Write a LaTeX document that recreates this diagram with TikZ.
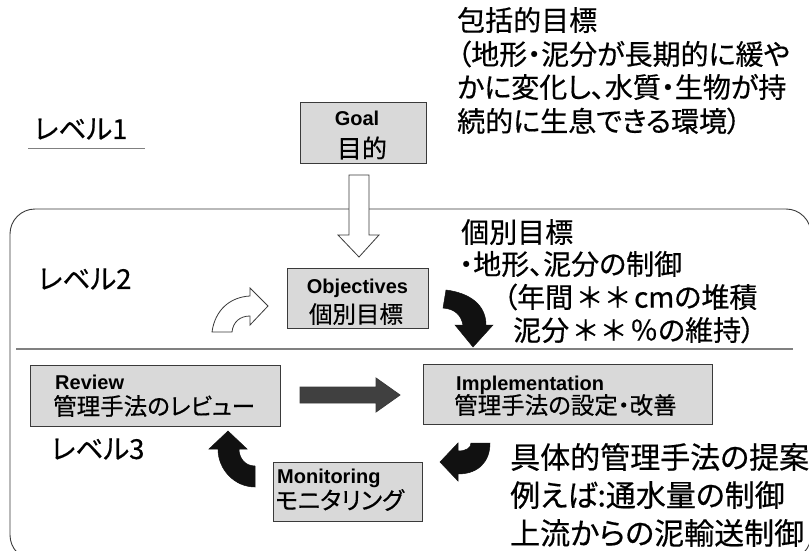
\documentclass[tikz,border=0pt]{standalone}
\usepackage{fontspec}
\setmainfont[RawFeature=+palt, FakeBold=0.5]{Noto Sans CJK JP}
\newfontfamily\lat{Liberation Sans}
\definecolor{boxfill}{HTML}{D9D9D9}
\definecolor{boxline}{HTML}{3A3A3A}
\definecolor{darkarrow}{HTML}{404040}
\definecolor{rulegray}{HTML}{808080}
\definecolor{blk}{HTML}{111111}
\newcommand{\ag}{\hspace{5pt}}
\begin{document}
\begin{tikzpicture}[x=1pt,y=-1pt,
  box/.style={draw=boxline, fill=boxfill, line width=0.9pt, inner sep=0pt, rectangle},
  en/.style={inner sep=0pt, font=\lat\bfseries\fontsize{20}{24}\selectfont},
  jb/.style={inner sep=0pt, font=\fontsize{23.5}{28}\selectfont},
  lv/.style={inner sep=0pt, font=\fontsize{27.5}{30}\selectfont, anchor=west},
  bigA/.style={inner sep=0pt, font=\fontsize{28}{31}\selectfont, anchor=west},
  bigB/.style={inner sep=0pt, font=\fontsize{28}{31}\selectfont, anchor=west},
  bigC/.style={inner sep=0pt, font=\fontsize{30}{33}\selectfont, anchor=west},
  whitearrow/.style={draw=boxline, fill=white, line width=0.8pt, line join=miter},
  blackarrow/.style={draw=blk, fill=blk, line width=0.5pt},
  grayarrow/.style={draw=boxline, fill=darkarrow, line width=0.8pt}]
\useasboundingbox (0,0) rectangle (809,551);
% level 2/3 frame
\begin{scope}
\clip (0,0) rectangle (809,551);
\draw[boxline, line width=0.9pt, rounded corners=25pt] (10,209) rectangle (811,560);
\end{scope}
\draw[rulegray, line width=1.5pt] (16,349) -- (793,349);
\draw[rulegray, line width=1pt] (28,148) -- (145,148);

% level labels
\node[lv] (lv1) at (34,129) {レベル1};
\node[lv] (lv2) at (38,279) {レベル2};
\node[lv] (lv3) at (51,449) {レベル3};

% boxes
\node[box, minimum width=126pt, minimum height=61pt] (goal) at (363,132.5) {};
\node[box, minimum width=141pt, minimum height=60pt] (obj) at (357.5,298) {};
\node[box, minimum width=250pt, minimum height=61pt] (rev) at (155,395.5) {};
\node[box, minimum width=289pt, minimum height=60pt] (impl) at (567.5,394) {};
\node[box, minimum width=149pt, minimum height=59pt] (mon) at (347.5,491.5) {};

\node[en, anchor=base] (goalE) at (357,125) {Goal};
\node[jb, anchor=center, font=\fontsize{25}{28}\selectfont] (goalJ) at (362,148) {目的};
\node[en, anchor=base] (objE) at (357.5,293) {Objectives};
\node[jb, anchor=center] (objJ) at (356,314) {個別目標};
\node[en, anchor=base west] (revE) at (55,389) {Review};
\node[jb, anchor=west] (revJ) at (53,406) {管理手法のレビュー};
\node[en, anchor=base west] (implE) at (456,390) {Implementation};
\node[jb, anchor=west] (implJ) at (454,405) {管理手法の設定・改善};
\node[en, anchor=base west] (monE) at (277,483) {Monitoring};
\node[jb, anchor=west, font=\fontsize{24}{28}\selectfont] (monJ) at (275,500) {モニタリング};

% description texts
\node[bigA] (t1) at (457,20) {包括的目標};
\node[bigA] (t2) at (457,54) {（地形・泥分が長期的に緩や};
\node[bigA] (t3) at (457,87) {かに変化し、水質・生物が持};
\node[bigA] (t4) at (457,121) {続的に生息できる環境）};

\node[bigB] (o1) at (461,232) {個別目標};
\node[bigB] (o2) at (459,264) {・地形、泥分の制御};
\node[bigB] (o3) at (503,297) {（年間\ag＊\ag＊\ag cmの堆積};
\node[bigB] (o4) at (513,330) {泥分\ag＊\ag＊\ag ％の維持）};

\node[bigC] (m1) at (510,457) {具体的管理手法の提案};
\node[bigC] (m2) at (510,495) {例えば:通水量の制御};
\node[bigC] (m3) at (510,533) {上流からの泥輸送制御};

% arrows
\draw[whitearrow] (349,175) -- (369,175) -- (369,235) -- (379,235) -- (359,257)
  -- (338,235) -- (349,235) -- cycle;
\draw[whitearrow] (212,332) .. controls (215,310) and (230,297) .. (250,296)
  -- (250,288) -- (268,306) -- (250,325) -- (250,316)
  .. controls (240,316) and (233,322) .. (232,332) -- cycle;
\draw[blackarrow] (446,290) .. controls (470,293) and (486,305) .. (486,325)
  -- (493,325) -- (473,347) -- (455,325) -- (463,325)
  .. controls (461,315) and (455,309) .. (443,308) -- cycle;
\draw[grayarrow] (300,387) -- (376,387) -- (376,378) -- (400,395) -- (376,412)
  -- (376,403) -- (300,403) -- cycle;
\draw[blackarrow] (458,474) .. controls (478,474) and (490,462) .. (490,443)
  -- (471,443) .. controls (471,448) and (466,451) .. (458,451)
  -- (458,443) -- (440,462) -- (458,481) -- cycle;
\draw[blackarrow] (218,449) .. controls (218,470) and (235,487) .. (255,487)
  -- (255,466) .. controls (245,466) and (239,458) .. (239,449)
  -- (247,449) -- (228,431) -- (209,449) -- cycle;
\end{tikzpicture}
\end{document}
